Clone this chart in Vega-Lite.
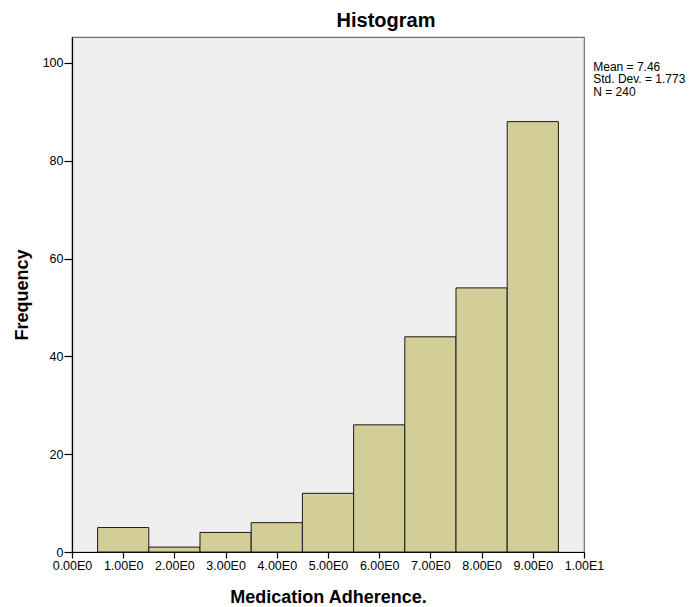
{
  "$schema": "https://vega.github.io/schema/vega-lite/v6.json",
  "autosize": {"type": "none"},
  "padding": {"left": 72, "top": 37, "right": 115, "bottom": 55},
  "width": 512,
  "height": 515,
  "background": "white",
  "config": {
    "font": "Liberation Sans",
    "view": {"fill": "#EFEFEF", "stroke": "#707070", "strokeWidth": 1.2}
  },
  "title": {
    "text": "Histogram",
    "fontSize": 20,
    "fontWeight": "bold",
    "font": "Liberation Sans",
    "color": "black",
    "anchor": "middle",
    "dx": 58,
    "offset": 6
  },
  "layer": [
    {
      "data": {
        "values": [
          {"bin_start": 0.5, "bin_end": 1.5, "count": 5},
          {"bin_start": 1.5, "bin_end": 2.5, "count": 1},
          {"bin_start": 2.5, "bin_end": 3.5, "count": 4},
          {"bin_start": 3.5, "bin_end": 4.5, "count": 6},
          {"bin_start": 4.5, "bin_end": 5.5, "count": 12},
          {"bin_start": 5.5, "bin_end": 6.5, "count": 26},
          {"bin_start": 6.5, "bin_end": 7.5, "count": 44},
          {"bin_start": 7.5, "bin_end": 8.5, "count": 54},
          {"bin_start": 8.5, "bin_end": 9.5, "count": 88}
        ]
      },
      "mark": {"type": "bar", "fill": "#D3CE98", "stroke": "#1a1a1a", "strokeWidth": 1},
      "encoding": {
        "x": {
          "field": "bin_start",
          "type": "quantitative",
          "scale": {"domain": [0, 10], "nice": false, "zero": false},
          "axis": {
            "title": "Medication Adherence.",
            "values": [0, 1, 2, 3, 4, 5, 6, 7, 8, 9, 10],
            "labelExpr": "datum.value == 10 ? '1.00E1' : format(datum.value, '.2f') + 'E0'",
            "grid": false,
            "domainColor": "black",
            "domainWidth": 1.2,
            "tickColor": "black",
            "tickWidth": 1.2,
            "tickSize": 6,
            "labelPadding": 1,
            "labelFontSize": 12.5,
            "labelColor": "black",
            "labelFlush": false,
            "labelOverlap": false,
            "titleFontSize": 18,
            "titleFontWeight": "bold",
            "titleColor": "black",
            "titlePadding": 17
          }
        },
        "x2": {"field": "bin_end"},
        "y": {
          "field": "count",
          "type": "quantitative",
          "scale": {"domain": [0, 105.3], "nice": false},
          "axis": {
            "title": "Frequency",
            "values": [0, 20, 40, 60, 80, 100],
            "grid": false,
            "domainColor": "black",
            "domainWidth": 1.2,
            "tickColor": "black",
            "tickWidth": 1.2,
            "tickSize": 8,
            "labelPadding": 1,
            "labelFontSize": 12.5,
            "labelColor": "black",
            "labelFlush": false,
            "titleFontSize": 18,
            "titleFontWeight": "bold",
            "titleColor": "black",
            "titlePadding": 11
          }
        },
        "y2": {"datum": 0}
      }
    },
    {
      "data": {"values": [{"label": "Mean = 7.46\nStd. Dev. = 1.773\nN = 240"}]},
      "mark": {
        "type": "text",
        "align": "left",
        "baseline": "top",
        "fontSize": 12,
        "lineHeight": 12.5,
        "lineBreak": "\n",
        "color": "black",
        "clip": false
      },
      "encoding": {
        "x": {"datum": 10.18, "type": "quantitative"},
        "y": {"datum": 100.2, "type": "quantitative"},
        "text": {"field": "label", "type": "nominal"}
      }
    }
  ]
}
